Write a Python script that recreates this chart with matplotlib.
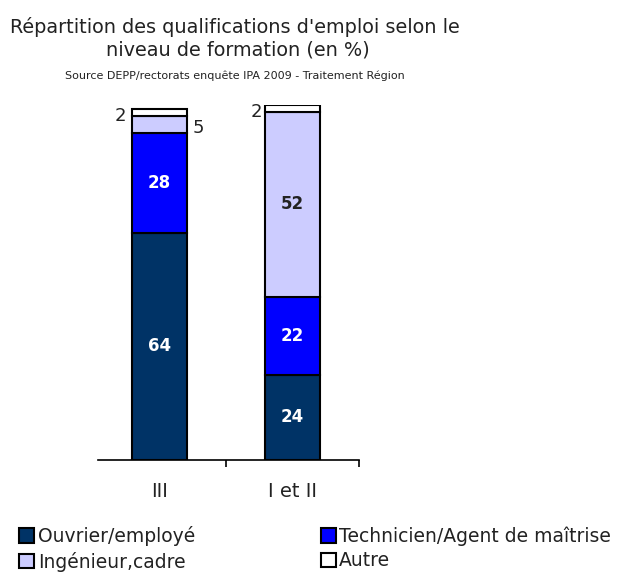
import matplotlib.pyplot as plt
from matplotlib.patches import Patch

niveaux = ["III", "I et II"]
categories = ["Ouvrier/employé", "Technicien/Agent de maîtrise", "Ingénieur,cadre", "Autre"]
ouvrier = [64, 24]
technicien = [28, 22]
ingenieur = [5, 52]
autre = [2, 2]

couleurs = ["#003366", "#0000FF", "#CCCCFF", "#FFFFFF"]
couleurs_texte = ["white", "white", "#222222", "#222222"]

fig = plt.figure(figsize=(6.17, 5.73), dpi=100)
W, H = 617, 573
ax = fig.add_axes([93 / W, 1 - 460 / H, (359 - 93) / W, (460 - 105) / H])

series = [ouvrier, technicien, ingenieur, autre]
x = list(range(len(niveaux)))
bas = [0] * len(niveaux)
for valeurs, couleur, c_txt in zip(series, couleurs, couleurs_texte):
    ax.bar(x, valeurs, bottom=bas, width=0.41, color=couleur,
           edgecolor="black", linewidth=1.5, zorder=2)
    for i, v in enumerate(valeurs):
        if v >= 10:
            ax.text(i, bas[i] + v / 2, str(v), ha="center", va="center",
                    color=c_txt, fontsize=12, fontweight="bold")
    bas = [b + v for b, v in zip(bas, valeurs)]

# petites valeurs écrites à côté des barres
ax.text(-0.25, ouvrier[0] + technicien[0] + ingenieur[0] + autre[0] / 2 - 1,
        str(autre[0]), ha="right", va="center", fontsize=13, color="#222222")
ax.text(0.25, ouvrier[0] + technicien[0] + ingenieur[0] / 2 - 1,
        str(ingenieur[0]), ha="left", va="center", fontsize=13, color="#222222")
ax.text(0.77, ouvrier[1] + technicien[1] + ingenieur[1] + autre[1] / 2 - 1,
        str(autre[1]), ha="right", va="center", fontsize=13, color="#222222")

ax.set_xlim(-0.5, 1.5)
ax.set_ylim(0, 100)
for side in ["left", "right", "top"]:
    ax.spines[side].set_visible(False)
ax.spines["bottom"].set_linewidth(1.2)
ax.spines["bottom"].set_bounds(-0.46, 1.5)
ax.set_yticks([])
ax.set_xticks([0.5, 1.5], minor=False)
ax.set_xticklabels([])
ax.tick_params(axis="x", direction="out", length=5, width=1.2)
ax.set_xticks(x, minor=True)
ax.set_xticklabels(niveaux, minor=True, fontsize=14, color="#222222")
ax.tick_params(axis="x", which="minor", length=0, pad=16)

fig.text(235 / W, 1 - 27 / H, "Répartition des qualifications d'emploi selon le",
         ha="center", va="center", fontsize=13.9, color="#222222")
fig.text(238 / W, 1 - 50 / H, "niveau de formation (en %)",
         ha="center", va="center", fontsize=13.9, color="#222222")
fig.text(235 / W, 1 - 76 / H, "Source DEPP/rectorats enquête IPA 2009 - Traitement Région",
         ha="center", va="center", fontsize=8, color="#222222")

handles = [Patch(facecolor=c, edgecolor="black", linewidth=1.5) for c in couleurs]
ordre = [0, 2, 1, 3]
fig.legend([handles[i] for i in ordre], [categories[i] for i in ordre],
           loc="upper left", bbox_to_anchor=(2 / W, 1 - 509 / H), ncol=2,
           frameon=False, fontsize=13.5, handlelength=0.8, handleheight=0.8,
           handletextpad=0.2, columnspacing=6.7, labelspacing=0.3,
           labelcolor="#222222")

fig.savefig("out.png", dpi=100)
